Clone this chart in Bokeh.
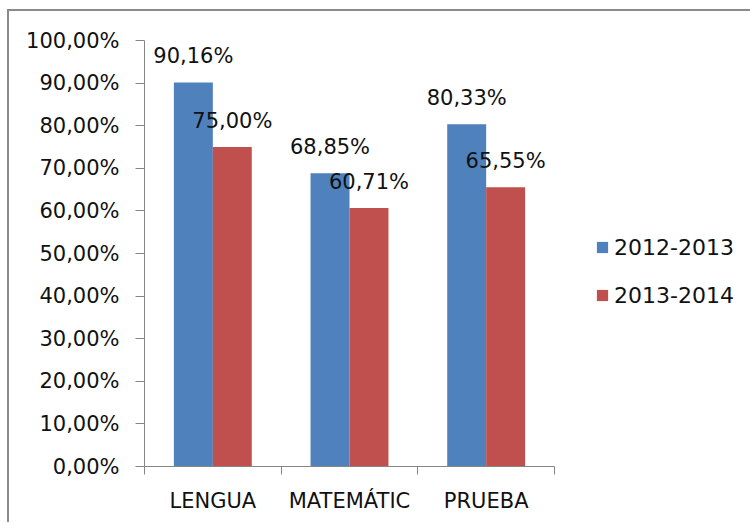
from bokeh.plotting import figure
from bokeh.models import (Range1d, FixedTicker, LinearAxis, Legend, LegendItem,
                          ColumnDataSource)
from bokeh.core.properties import value
from bokeh.embed import file_html
from bokeh.resources import INLINE

# ---- data ----
categories = ["LENGUA", "MATEMÁTIC", "PRUEBA"]
series_names = ["2012-2013", "2013-2014"]
values_2012_2013 = [90.16, 68.85, 80.33]
values_2013_2014 = [75.00, 60.71, 65.55]
y_tick_values = [0, 10, 20, 30, 40, 50, 60, 70, 80, 90, 100]
y_tick_labels = ["0,00%", "10,00%", "20,00%", "30,00%", "40,00%", "50,00%",
                 "60,00%", "70,00%", "80,00%", "90,00%", "100,00%"]

BLUE = "#4F81BD"
RED = "#C0504D"
GRID = "#868686"
FONT = "DejaVu Sans"
TXT = "#111111"

bar_w = 0.285
n = len(categories)
centers = [i + 0.5 for i in range(n)]
x_blue = [c - bar_w / 2 for c in centers]
x_red = [c + bar_w / 2 for c in centers]

def fmt(v):
    return f"{v:.2f}".replace(".", ",") + "%"

src_blue = ColumnDataSource(dict(x=x_blue, top=values_2012_2013,
                                 lbl=[fmt(v) for v in values_2012_2013]))
src_red = ColumnDataSource(dict(x=x_red, top=values_2013_2014,
                                lbl=[fmt(v) for v in values_2013_2014]))

p = figure(frame_width=410, frame_height=426, output_backend="svg",
           toolbar_location=None,
           x_range=Range1d(0, n), y_range=Range1d(0, 100),
           x_axis_type=None, y_axis_type=None,
           min_border_left=135, min_border_right=194,
           min_border_top=29, min_border_bottom=56,
           margin=(9, 0, 0, 7))
p.styles = {"border-left": "2px solid #8a8a8a", "border-top": "2px solid #8a8a8a"}
p.outline_line_color = None
p.background_fill_color = "white"
p.border_fill_color = "white"

# y axis
yaxis = LinearAxis(ticker=FixedTicker(ticks=y_tick_values, minor_ticks=[]))
yaxis.major_label_overrides = {t: l for t, l in zip(y_tick_values, y_tick_labels)}
yaxis.axis_line_color = GRID
yaxis.major_tick_line_color = GRID
yaxis.major_tick_out = 9
yaxis.major_tick_in = 0
yaxis.minor_tick_line_color = None
yaxis.major_label_text_font = FONT
yaxis.major_label_text_font_size = "21px"
yaxis.major_label_text_color = TXT
yaxis.major_label_standoff = 16
p.add_layout(yaxis, "left")

# x axis: labels at centers, ticks at category boundaries
xaxis = LinearAxis(ticker=FixedTicker(ticks=centers,
                                      minor_ticks=list(range(n + 1))))
xaxis.major_label_overrides = {c: l for c, l in zip(centers, categories)}
xaxis.axis_line_color = GRID
xaxis.major_tick_line_color = None
xaxis.major_tick_out = 0
xaxis.major_tick_in = 0
xaxis.minor_tick_line_color = GRID
xaxis.minor_tick_out = 8
xaxis.minor_tick_in = 0
xaxis.major_label_text_font = FONT
xaxis.major_label_text_font_size = "21px"
xaxis.major_label_text_color = TXT
xaxis.major_label_standoff = 14
p.add_layout(xaxis, "below")

p.ygrid.ticker = FixedTicker(ticks=y_tick_values)
p.ygrid.grid_line_color = GRID
p.xgrid.grid_line_color = None

r_blue = p.vbar(x="x", top="top", bottom=0, width=bar_w, source=src_blue,
                fill_color=BLUE, line_color=None)
r_red = p.vbar(x="x", top="top", bottom=0, width=bar_w, source=src_red,
               fill_color=RED, line_color=None)

for src in (src_blue, src_red):
    p.text(x="x", y="top", text="lbl", source=src, text_align="center",
           text_baseline="alphabetic", y_offset=-26,
           text_font=value(FONT), text_font_size="21px", text_color=TXT)

legend = Legend(items=[LegendItem(label=series_names[0], renderers=[r_blue]),
                       LegendItem(label=series_names[1], renderers=[r_red])],
                location=(41, 158), orientation="vertical",
                glyph_width=14, glyph_height=14, label_height=26,
                label_standoff=5, spacing=22, padding=0, margin=0,
                border_line_color=None, background_fill_alpha=0,
                label_text_font=FONT, label_text_font_size="22px",
                label_text_color=TXT)
p.add_layout(legend, "right")

open("out.html", "w").write(file_html(p, INLINE))
